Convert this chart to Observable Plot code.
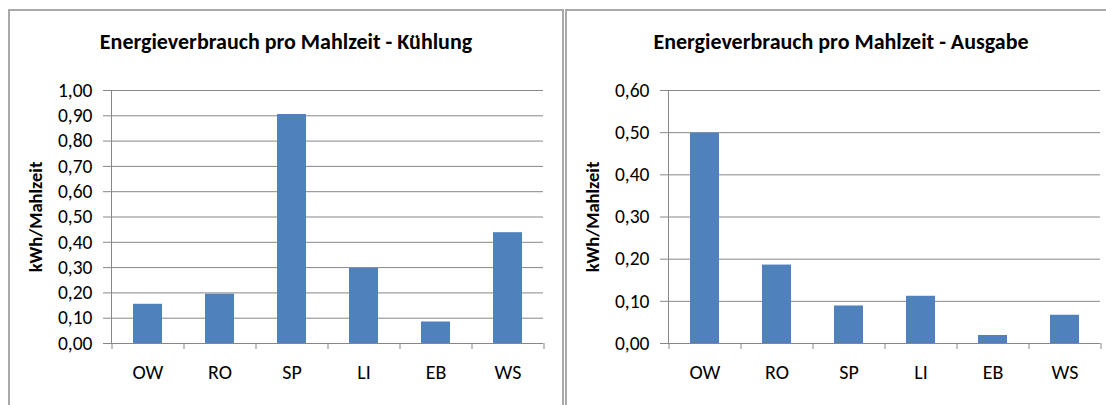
<!DOCTYPE html>
<html>
<head>
<meta charset="utf-8">
<script src="https://cdn.jsdelivr.net/npm/d3@7"></script>
<script src="https://cdn.jsdelivr.net/npm/@observablehq/plot@0.6"></script>
<style>
  html, body { margin: 0; padding: 0; background: #fff; }
  body { position: relative; width: 1106px; height: 405px; overflow: hidden; font-family: Carlito, Calibri, Lato, "Open Sans", sans-serif; }
  .panel { position: absolute; top: 9px; height: 430px; border: 2px solid #a9a9a9; box-sizing: border-box; }
  .title { position: absolute; top: 28px; font-weight: bold; font-size: 22px; line-height: 27px; color: #000; text-align: center; white-space: nowrap; }
  .chart { position: absolute; top: 60px; }
  .chart svg { overflow: visible; }
</style>
</head>
<body>
<div class="panel" style="left:8px;width:556px"></div>
<div class="panel" style="left:565px;width:560px"></div>
<div class="title" style="left:8px;width:556px" id="t1"></div>
<div class="title" style="left:565px;width:552px" id="t2"></div>
<div class="chart" id="c1" style="left:10px"></div>
<div class="chart" id="c2" style="left:566px"></div>
<script>
// ---- data ----
const categories = ["OW", "RO", "SP", "LI", "EB", "WS"];
const kuehlungValues = [0.155, 0.195, 0.905, 0.297, 0.085, 0.438];
const ausgabeValues = [0.499, 0.186, 0.089, 0.112, 0.019, 0.067];
const kuehlungTicks = [0, 0.1, 0.2, 0.3, 0.4, 0.5, 0.6, 0.7, 0.8, 0.9, 1.0];
const ausgabeTicks = [0, 0.1, 0.2, 0.3, 0.4, 0.5, 0.6];
const titleKuehlung = "Energieverbrauch pro Mahlzeit - Kühlung";
const titleAusgabe = "Energieverbrauch pro Mahlzeit - Ausgabe";
const yLabel = "kWh/Mahlzeit";

const de = d3.formatLocale({decimal: ",", thousands: ".", grouping: [3], currency: ["", " €"]});
const fmt = de.format(".2f");

const FONT = 'Carlito, Calibri, Lato, "Open Sans", sans-serif';
const GRID = "#878787";
const BAR = "#4f81bd";

function makeChart({values, ticks, width, marginLeft, marginRight}) {
  const height = 340, marginTop = 30, marginBottom = 57;
  const data = categories.map((c, i) => ({cat: c, value: values[i]}));
  const step = (width - marginLeft - marginRight) / categories.length; // paddingInner .6, paddingOuter .3
  return Plot.plot({
    width, height, marginLeft, marginRight, marginTop, marginBottom,
    style: {fontFamily: FONT, background: "transparent", color: "#000"},
    x: {domain: categories, paddingInner: 0.6, paddingOuter: 0.3, align: 0.5},
    y: {domain: [0, ticks[ticks.length - 1]]},
    marks: [
      Plot.gridY(ticks, {stroke: GRID, strokeOpacity: 1, strokeWidth: 1}),
      Plot.axisY(ticks, {tickSize: 8, tickPadding: 11, tickFormat: fmt, stroke: GRID, strokeOpacity: 1, fontSize: 19.5, fill: "#000", label: null}),
      Plot.frame({anchor: "left", stroke: GRID, strokeOpacity: 1}),
      Plot.barY(data, {x: "cat", y: "value", fill: BAR}),
      Plot.ruleY([0], {stroke: GRID, strokeOpacity: 1}),
      Plot.axisX(categories, {tickSize: 6, dx: -step / 2, tickFormat: () => "", stroke: GRID, strokeOpacity: 1, label: null}),
      Plot.axisX([categories[categories.length - 1]], {tickSize: 6, dx: step / 2, tickFormat: () => "", stroke: GRID, strokeOpacity: 1, label: null}),
      Plot.axisX(categories, {tickSize: 0, tickPadding: 21, fontSize: 20, fill: "#000", label: null}),
      Plot.text([yLabel], {frameAnchor: "left", dx: -75, rotate: -90, text: d => d, fontWeight: "bold", fontSize: 18.5, fill: "#000", textAnchor: "middle", lineAnchor: "middle"})
    ]
  });
}

document.getElementById("t1").textContent = titleKuehlung;
document.getElementById("t2").textContent = titleAusgabe;
document.getElementById("c1").append(makeChart({values: kuehlungValues, ticks: kuehlungTicks, width: 550, marginLeft: 101, marginRight: 17}));
document.getElementById("c2").append(makeChart({values: ausgabeValues, ticks: ausgabeTicks, width: 540, marginLeft: 102, marginRight: 6}));
</script>
</body>
</html>
